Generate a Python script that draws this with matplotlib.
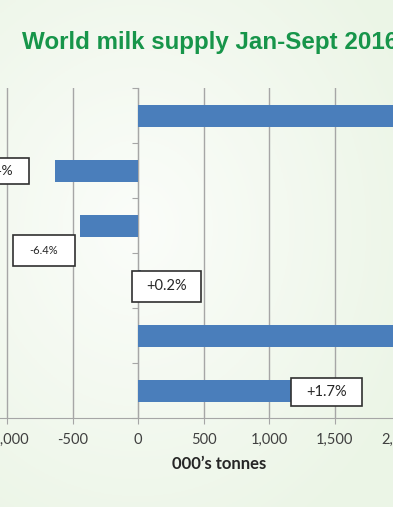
import numpy as np
import matplotlib.pyplot as plt
from matplotlib.patches import Rectangle
from matplotlib.ticker import FuncFormatter

# change in milk supply, 000's tonnes (top to bottom)
values = [2300, -634, -443, 20, 2250, 1168]
pct_labels = ['-3.4%', '-6.4%', '+0.2%', '+1.7%']
# label boxes: (x0, x1, y0, y1) in data units, font size
label_boxes = [(-1360, -830, 0.773, 1.245, 10),
               (-954, -481, 2.173, 2.736, 8),
               (-46, 481, 2.827, 3.391, 10.5),
               (1168, 1710, 4.773, 5.282, 10.5)]
xticks = [-1500, -1000, -500, 0, 500, 1000, 1500, 2000, 2500]

fig = plt.figure(figsize=(3.93, 5.07), dpi=100)

# background gradient
bg = fig.add_axes([0, 0, 1, 1], zorder=-1)
yy, xx = np.mgrid[0:1:200j, 0:1:200j]
r = np.sqrt((xx - 0.35) ** 2 + ((yy - 0.45) * 1.1) ** 2)
c0 = np.array([0.985, 0.992, 0.98])
c1 = np.array([0.925, 0.962, 0.905])
t = np.clip(r / 0.75, 0, 1)[..., None]
bg.imshow(c0 * (1 - t) + c1 * t, aspect='auto', extent=[0, 1, 0, 1])
bg.axis('off')

fig.text(22 / 393, 1 - 43 / 507, 'World milk supply Jan-Sept 2016', color='#17954a',
         fontsize=17.4, fontweight='bold', family='Liberation Sans', va='center', ha='left')

# axes placement so 0 sits at x=138px, 131px per 1000
xmin, xmax = -1500, 2740
left_px = 138 + 0.131 * xmin
right_px = 138 + 0.131 * xmax
ax = fig.add_axes([left_px / 393, (507 - 418) / 507, (right_px - left_px) / 393, 330 / 507])
ax.patch.set_alpha(0)

cats = np.arange(len(values))
ax.barh(cats, values, height=0.4, color='#4a7ebb', zorder=3)

ax.set_xlim(xmin, xmax)
ax.set_ylim(5.5, -0.5)
ax.set_xticks(xticks)
ax.xaxis.set_major_formatter(FuncFormatter(lambda v, p: f'{int(v):,}'))
ax.grid(axis='x', color='#a6a6a6', linewidth=1.0, zorder=0)
ax.tick_params(axis='x', length=4, color='#a6a6a6', labelsize=10.5, labelcolor='#404040', pad=7)
for lab in ax.get_xticklabels():
    lab.set_family('Lato')

ax.set_yticks(np.arange(-0.5, 6, 1))
ax.set_yticklabels([])
ax.tick_params(axis='y', length=4, color='#a6a6a6')
ax.spines['left'].set_position(('data', 0))
ax.spines['left'].set_color('#a6a6a6')
ax.spines['bottom'].set_color('#a6a6a6')
ax.spines['top'].set_visible(False)
ax.spines['right'].set_visible(False)

ax.set_xlabel('000\u2019s tonnes', fontsize=12, fontweight='bold', family='Lato', color='#262626',
              labelpad=6)

for (x0, x1, y0, y1, fs), txt in zip(label_boxes, pct_labels):
    ax.add_patch(Rectangle((x0, y0), x1 - x0, y1 - y0, facecolor='white',
                           edgecolor='#303030', linewidth=1.2, zorder=5, clip_on=False))
    ax.text((x0 + x1) / 2, (y0 + y1) / 2, txt, ha='center', va='center', fontsize=fs,
            family='Lato', color='#262626', zorder=6, clip_on=False)

fig.savefig('out.png', dpi=100)
